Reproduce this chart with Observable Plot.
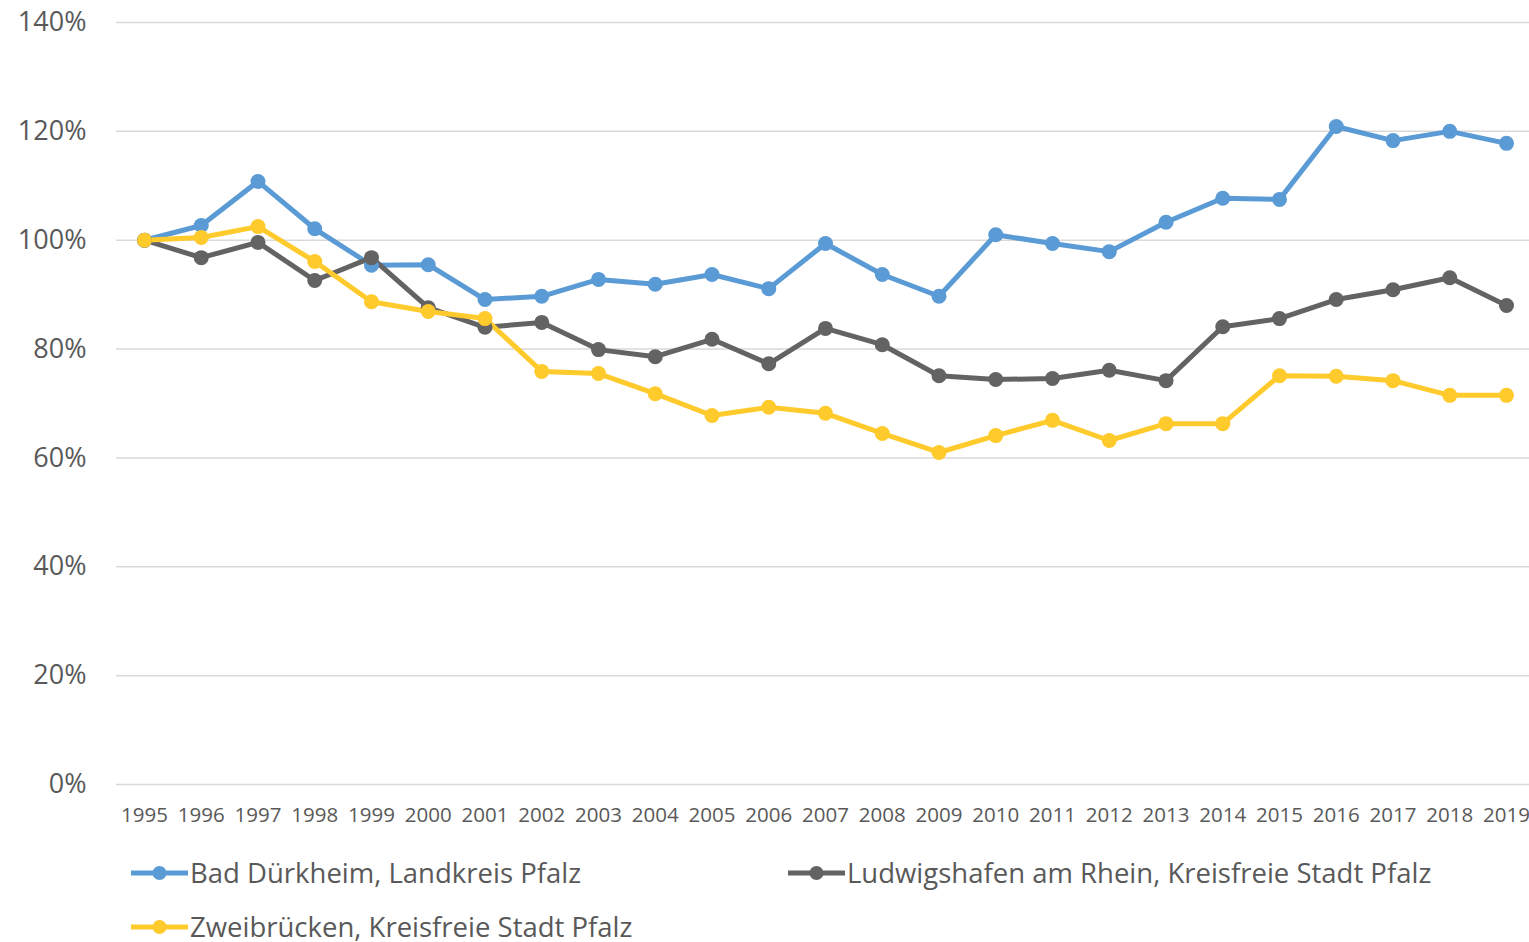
<!DOCTYPE html>
<html>
<head>
<meta charset="utf-8">
<script src="https://cdn.jsdelivr.net/npm/d3@7"></script>
<script src="https://cdn.jsdelivr.net/npm/@observablehq/plot@0.6"></script>
<style>
  html, body { margin: 0; padding: 0; background: #fff; }
  body { width: 1529px; height: 942px; overflow: hidden; font-family: "Open Sans", sans-serif; }
  #chart { position: relative; }
  #legend { position: relative; height: 97px; }
  .item { position: absolute; display: flex; align-items: center; font-size: 27.5px; line-height: 32px; color: #595959; white-space: nowrap; }
  .item svg { margin-right: 2px; }
</style>
</head>
<body>
<div id="chart"></div>
<div id="legend"></div>
<script>
const years = ["1995","1996","1997","1998","1999","2000","2001","2002","2003","2004","2005","2006","2007","2008","2009","2010","2011","2012","2013","2014","2015","2016","2017","2018","2019"];
const badDurkheim = [100,102.7,110.8,102.1,95.4,95.5,89.1,89.7,92.8,91.9,93.7,91.1,99.4,93.7,89.7,101.0,99.4,97.9,103.3,107.7,107.5,120.9,118.3,120.0,117.8];
const ludwigshafen = [100,96.8,99.6,92.6,96.8,87.6,84.0,84.9,79.9,78.6,81.8,77.3,83.8,80.8,75.1,74.4,74.6,76.1,74.2,84.1,85.6,89.1,90.9,93.1,88.0];
const zweibrucken = [100,100.5,102.5,96.1,88.7,86.9,85.6,75.9,75.5,71.8,67.8,69.3,68.2,64.5,61.0,64.1,66.9,63.2,66.3,66.3,75.1,75.0,74.2,71.5,71.5];
const seriesNames = ["Bad Dürkheim, Landkreis Pfalz","Ludwigshafen am Rhein, Kreisfreie Stadt Pfalz","Zweibrücken, Kreisfreie Stadt Pfalz"];
const seriesColors = ["#5B9BD5","#636363","#FFCA2C"];
const yTicks = [0,20,40,60,80,100,120,140];

const seriesValues = [badDurkheim, ludwigshafen, zweibrucken];
const data = [];
seriesValues.forEach((vals, si) => {
  vals.forEach((v, i) => data.push({year: years[i], value: v, series: seriesNames[si]}));
});

const font = '"Open Sans", sans-serif';
const chart = Plot.plot({
  width: 1529,
  height: 845,
  marginTop: 22,
  marginBottom: 61,
  marginLeft: 116,
  marginRight: 0,
  style: {fontFamily: font, background: "#fff", overflow: "visible"},
  x: {type: "point", domain: years, range: [144, 1506], padding: 0, round: false},
  y: {domain: [0, 140]},
  color: {domain: seriesNames, range: seriesColors},
  marks: [
    Plot.gridY(yTicks, {stroke: "#D9D9D9", strokeOpacity: 1, strokeWidth: 1.5}),
    Plot.axisY(yTicks, {tickSize: 0, tickPadding: 30, tickFormat: d => d + "%", fontSize: 27, fill: "#595959", label: null}),
    Plot.axisX({tickSize: 0, tickPadding: 23, fontSize: 20.5, fill: "#595959", label: null}),
    Plot.line(data, {x: "year", y: "value", z: "series", stroke: "series", strokeWidth: 5, strokeLinejoin: "round"}),
    Plot.dot(data, {x: "year", y: "value", fill: "series", r: 7.5})
  ]
});
document.getElementById("chart").appendChild(chart);

const legend = document.getElementById("legend");
const positions = [{left: 131, top: 28}, {left: 788, top: 28}, {left: 131, top: 82}];
seriesNames.forEach((name, i) => {
  const item = document.createElement("div");
  item.className = "item";
  item.style.left = positions[i].left + "px";
  item.style.top = (positions[i].top - 16) + "px";
  item.style.height = "32px";
  item.innerHTML = `<svg width="57" height="16"><line x1="0" y1="8" x2="57" y2="8" stroke="${seriesColors[i]}" stroke-width="5" stroke-linecap="round"/><circle cx="28.5" cy="8" r="7" fill="${seriesColors[i]}"/></svg><span>${name}</span>`;
  legend.appendChild(item);
});
</script>
</body>
</html>
